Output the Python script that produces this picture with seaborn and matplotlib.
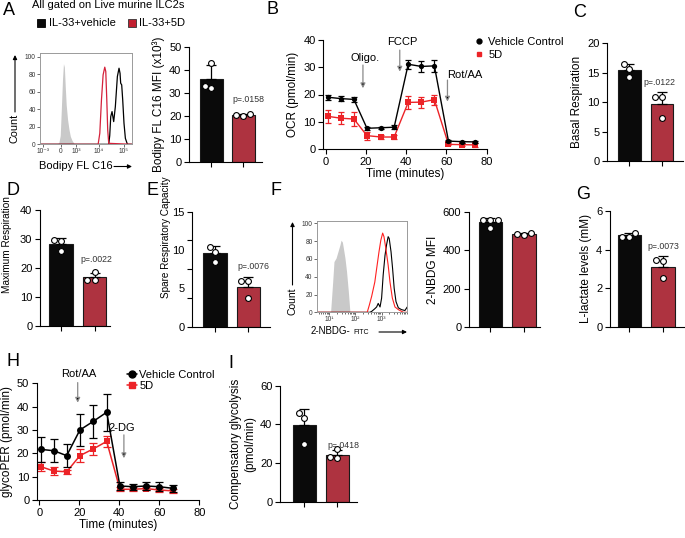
import numpy as np
import pandas as pd
import matplotlib
matplotlib.use("Agg")
import matplotlib.pyplot as plt
import seaborn as sns
from matplotlib.lines import Line2D
from matplotlib.patches import Rectangle
from matplotlib.ticker import NullFormatter

# ---------------- data ----------------
groups = ["Vehicle", "5D"]

bodipy_mfi_veh = [43.0, 32.0, 33.0]
bodipy_mfi_5d = [21.0, 20.3, 20.2]
basal_resp_veh = [16.4, 15.6, 14.2]
basal_resp_5d = [10.9, 10.8, 7.3]
max_resp_veh = [29.6, 29.4, 25.8]
max_resp_5d = [18.6, 15.9, 15.7]
spare_cap_veh = [10.4, 9.8, 8.5]
spare_cap_5d = [6.0, 5.9, 3.7]
nbdg_mfi_veh = [558, 556, 556, 516]
nbdg_mfi_5d = [492, 478, 486]
lactate_veh = [4.88, 4.67, 4.67]
lactate_5d = [3.46, 3.40, 2.50]
comp_glyc_veh = [45.7, 43.1, 29.7]
comp_glyc_5d = [27.1, 23.3, 22.8]

p_bodipy = "p=.0158"
p_basal = "p=.0122"
p_max = "p=.0022"
p_spare = "p=.0076"
p_lactate = "p=.0073"
p_comp = "p=.0418"

# OCR (panel B)
ocr_time = [1, 7.5, 14, 20.5, 27.5, 34, 41, 47.5, 54, 61, 67.5, 74]
ocr_veh = [19.0, 18.5, 18.2, 7.6, 7.8, 8.0, 31.1, 30.3, 30.5, 2.9, 2.7, 2.6]
ocr_veh_err = [1.0, 1.0, 1.0, 0.6, 0.4, 0.7, 1.6, 2.1, 2.1, 0.4, 0.4, 0.4]
ocr_5d = [12.0, 11.3, 11.0, 4.9, 4.4, 4.4, 17.1, 17.2, 18.1, 1.7, 1.6, 1.5]
ocr_5d_err = [2.4, 2.1, 2.4, 1.5, 0.6, 0.9, 2.3, 2.0, 1.8, 0.4, 0.5, 0.6]

# glycoPER (panel H)
per_time = [0.7, 7.3, 13.7, 20.3, 27.0, 33.7, 40.3, 47.0, 53.3, 60.0, 66.7]
per_veh = [21.7, 21.1, 19.0, 30.0, 33.7, 37.6, 6.0, 5.7, 6.0, 5.7, 5.0]
per_veh_err = [5.5, 5.0, 4.8, 7.0, 7.1, 7.9, 1.8, 1.3, 1.7, 1.8, 1.6]
per_5d = [14.3, 12.4, 12.1, 19.0, 21.9, 25.1, 4.6, 4.6, 4.9, 4.3, 3.9]
per_5d_err = [2.0, 1.9, 0.8, 2.7, 2.5, 2.4, 0.8, 0.8, 0.8, 0.8, 0.8]

# Bodipy FL C16 histogram (panel A), biexponential display channel units
bodipy_tick_pos = [2.9, 22.8, 39.1, 63.8, 91.3]
bodipy_tick_lab = ["10⁻³", "0", "10³", "10⁴", "10⁵"]
bodipy_fmo_x = [0, 18.5, 20.5, 22, 23, 24.5, 25.5, 26.5, 27.5, 28.5, 30, 31.5, 33, 35, 37, 39, 100]
bodipy_fmo_y = [0, 0, 2, 10, 35, 75, 92, 88, 65, 45, 28, 17, 9, 4, 1, 0, 0]
bodipy_5d_x = [0, 63.2, 65, 66.8, 68.6, 70.4, 71.5, 72.6, 73.6, 74.7, 100]
bodipy_5d_y = [0, 0, 12.6, 50.6, 79.2, 88, 83, 50.6, 16.3, 1.1, 0]
bodipy_veh_x = [0, 74.7, 75.8, 76.9, 78.3, 80.1, 81.9, 84.1, 85.9, 87, 87.7, 88.8, 89.9, 91.3, 92.8, 95, 100]
bodipy_veh_y = [0, 0, 10, 31.6, 37.3, 25.9, 43, 77.3, 86.8, 81, 69.7, 67.8, 50.6, 24, 6.8, 0, 0]

# 2-NBDG histogram (panel F), log10 intensity
nbdg_fmo_log = [0.5, 1.05, 1.13, 1.18, 1.26, 1.33, 1.41, 1.45, 1.50, 1.54, 1.60, 1.66, 1.73, 1.79, 4.0]
nbdg_fmo_cnt = [0, 0, 34, 57, 61, 68, 76, 81, 79, 72, 61, 46, 23, 0, 0]
nbdg_5d_log = [0.5, 2.45, 2.53, 2.62, 2.74, 2.81, 2.90, 2.97, 3.04, 3.09, 3.16, 3.25, 3.32, 3.41, 3.51, 3.64, 3.83, 4.0]
nbdg_5d_cnt = [0, 0, 8, 18, 34, 49, 68, 81, 89, 85, 72, 53, 34, 16, 6, 3, 0, 0]
nbdg_veh_log = [0.5, 2.55, 2.62, 2.74, 2.81, 2.87, 2.94, 3.0, 3.06, 3.13, 3.19, 3.25, 3.29, 3.36, 3.42, 3.48, 3.55, 3.64, 3.76, 3.89, 3.98]
nbdg_veh_cnt = [0, 0, 1, 4, 6, 10, 6, 16, 42, 64, 76, 85, 83, 68, 49, 27, 12, 5, 3, 2, 6]

# ---------------- style ----------------
sns.set_theme(style="ticks")
plt.rcParams["font.family"] = ["Liberation Sans", "DejaVu Sans"]
plt.rcParams.update({
    "axes.edgecolor": "black", "axes.linewidth": 0.8,
    "xtick.color": "black", "ytick.color": "black",
    "xtick.major.width": 0.8, "ytick.major.width": 0.8,
    "xtick.major.size": 3.5, "ytick.major.size": 3.5,
    "xtick.major.pad": 2, "ytick.major.pad": 2,
    "text.color": "black", "axes.labelcolor": "black",
})

BLACK = "#0a0a0a"
RED_BAR = "#c21f30"
RED_LINE = "#ec2327"
RED_HIST_A = "#d4213a"
RED_HIST_F = "#ff2020"
GREY_FILL = "#c9c9c9"
NARROW = ["Liberation Sans Narrow", "Liberation Sans", "DejaVu Sans"]

W, H = 685, 538
fig = plt.figure(figsize=(W / 100, H / 100), dpi=100)


def box(l, r, t, b):
    return [l / W, 1 - b / H, (r - l) / W, (b - t) / H]


def fx(x):
    return x / W


def fy(y):
    return 1 - y / H


def letter(s, x, y):
    fig.text(fx(x), fy(y), s, fontsize=13, ha="left", va="top")


def bar_panel(l, r, t, b, xlim, ymax, yticks, veh, fived, ylabel, pval=None, p_off=(0, 10),
              label_size=8.5, label_family=None):
    ax = fig.add_axes(box(l, r, t, b))
    df = pd.DataFrame({"group": [groups[0]] * len(veh) + [groups[1]] * len(fived),
                       "value": list(veh) + list(fived)})
    sns.barplot(data=df, x="group", y="value", hue="group", order=groups, hue_order=groups,
                palette=[BLACK, RED_BAR], errorbar=None, width=0.7,
                edgecolor="#1a1a1a", linewidth=0.8, legend=False, ax=ax, zorder=1)
    stats = df.groupby("group")["value"].agg(["mean", "std"]).reindex(groups)
    ax.errorbar([0, 1], stats["mean"].values, yerr=[np.zeros(2), stats["std"].values],
                fmt="none", ecolor="black", elinewidth=0.9, capsize=3.5, capthick=0.9, zorder=3)
    sns.swarmplot(data=df, x="group", y="value", order=groups, color="white",
                  edgecolor="black", linewidth=0.8, size=4.2, ax=ax, zorder=4, clip_on=False)
    ax.set_xlim(*xlim)
    ax.set_ylim(0, ymax)
    if yticks is not None:
        ax.set_yticks(yticks)
    ax.set_xlabel("")
    if label_family:
        ax.set_ylabel(ylabel, fontsize=label_size, labelpad=3, family=label_family)
    else:
        ax.set_ylabel(ylabel, fontsize=label_size, labelpad=3)
    ax.tick_params(axis="x", labelbottom=False)
    ax.tick_params(axis="y", labelsize=8)
    sns.despine(ax=ax)
    if pval:
        top = max(stats.loc[groups[1], "mean"] + stats.loc[groups[1], "std"], max(fived))
        ax.annotate(pval, xy=(1, top), xytext=(p_off[0] * 0.72, p_off[1] * 0.72),
                    textcoords="offset points", ha="center", va="center",
                    fontsize=6.3, color="#333333")
    return ax


def hist_axes(l, r, t, b):
    ax = fig.add_axes(box(l, r, t, b))
    for s in ax.spines.values():
        s.set_color("#9a9a9a")
        s.set_linewidth(0.7)
    return ax


def hist_ticks(ax):
    ax.tick_params(which="both", labelsize=4.8, width=0.5, pad=1, colors="#333333")
    ax.tick_params(which="major", length=2)
    ax.tick_params(which="minor", length=1.2)


def fig_arrow(x0, y0, x1, y1):
    fig.add_artist(matplotlib.patches.FancyArrowPatch(
        (fx(x0), fy(y0)), (fx(x1), fy(y1)), transform=fig.transFigure,
        arrowstyle="-|>", mutation_scale=6, lw=0.8, color="black",
        shrinkA=0, shrinkB=0))


def ax_arrow(ax, x, y0, y1):
    ax.annotate("", xy=(x, y1), xytext=(x, y0),
                arrowprops=dict(arrowstyle="-|>", fc="black", ec="#8a8a8a", lw=0.9,
                                mutation_scale=7, shrinkA=0, shrinkB=0))


# ---------------- panel A ----------------
letter("A", 3, 2)
fig.text(fx(32), fy(5.5), "All gated on Live murine ILC2s", fontsize=8, ha="left", va="center")
fig.add_artist(Rectangle((fx(36.5), fy(27.3)), 8.5 / W, 8.3 / H, transform=fig.transFigure,
                         facecolor=BLACK, edgecolor="black", lw=0.6))
fig.text(fx(48.5), fy(23.3), "IL-33+vehicle", fontsize=8, ha="left", va="center")
fig.add_artist(Rectangle((fx(127.7), fy(27.3)), 8.5 / W, 8.3 / H, transform=fig.transFigure,
                         facecolor=RED_BAR, edgecolor="#333333", lw=0.6))
fig.text(fx(139.5), fy(23.3), "IL-33+5D", fontsize=8, ha="left", va="center")

axA = hist_axes(40, 132, 52.7, 144.3)
axA.fill_between(bodipy_fmo_x, bodipy_fmo_y, color=GREY_FILL, lw=0)
sns.lineplot(x=bodipy_veh_x, y=bodipy_veh_y, color="black", lw=0.9, ax=axA)
sns.lineplot(x=bodipy_5d_x, y=bodipy_5d_y, color=RED_HIST_A, lw=0.9, ax=axA)
axA.set_xlim(0, 100)
axA.set_ylim(0, 104.5)
axA.set_xticks(bodipy_tick_pos)
axA.set_xticklabels(bodipy_tick_lab)
axA.set_yticks([0, 20, 40, 60, 80, 100])
hist_ticks(axA)
axA.set_xlabel("")
axA.set_ylabel("")
fig.text(fx(14.5), fy(128), "Count", rotation=90, fontsize=7.8, ha="center", va="center")
fig_arrow(15, 112, 15, 55)
fig.text(fx(39), fy(166), "Bodipy FL C16", fontsize=8, ha="left", va="center")
fig_arrow(114, 166.5, 132, 166.5)

bar_panel(189, 262, 46.7, 162.3, (-0.70, 1.58), 50, [0, 10, 20, 30, 40, 50],
          bodipy_mfi_veh, bodipy_mfi_5d, "Bodipy FL C16 MFI (x10³)", p_bodipy, (4.5, 14))

# ---------------- panel B ----------------
letter("B", 267, 1)
axB = fig.add_axes(box(323.3, 486.7, 40, 149))
axB.errorbar(ocr_time, ocr_5d, yerr=ocr_5d_err, fmt="none", ecolor=RED_LINE, elinewidth=0.9,
             capsize=2.5, capthick=0.9)
sns.lineplot(x=ocr_time, y=ocr_5d, color=RED_LINE, marker="s", markersize=3.8,
             markeredgewidth=0, lw=1, ax=axB)
axB.errorbar(ocr_time, ocr_veh, yerr=ocr_veh_err, fmt="none", ecolor="black", elinewidth=0.9,
             capsize=2.5, capthick=0.9)
sns.lineplot(x=ocr_time, y=ocr_veh, color="black", marker="o", markersize=3.8,
             markeredgewidth=0, lw=1, ax=axB)
axB.set_xlim(-1.2, 80)
axB.set_ylim(0, 40)
axB.set_xticks([0, 20, 40, 60, 80])
axB.set_yticks([0, 10, 20, 30, 40])
axB.tick_params(labelsize=8)
axB.set_xlabel("Time (minutes)", fontsize=8.5, labelpad=1)
axB.set_ylabel("OCR (pmol/min)", fontsize=8.5, labelpad=3)
sns.despine(ax=axB)
ax_arrow(axB, 18.5, 30.8, 22.3)
axB.text(19.6, 33.3, "Oligo.", ha="center", va="center", fontsize=8)
ax_arrow(axB, 36.8, 36.3, 28.4)
axB.text(38.0, 39.4, "FCCP", ha="center", va="center", fontsize=8)
ax_arrow(axB, 60.5, 25.3, 17.4)
axB.text(69.2, 27.2, "Rot/AA", ha="center", va="center", fontsize=8)
legB = [Line2D([], [], marker="o", color="black", ls="none", markersize=3.5),
        Line2D([], [], marker="s", color=RED_LINE, ls="none", markersize=3.5)]
fig.legend(legB, ["Vehicle Control", "5D"], loc="upper left",
           bbox_to_anchor=(fx(475), fy(37)), frameon=False, fontsize=8,
           handlelength=0.8, handletextpad=0.4, labelspacing=0.25, borderpad=0,
           borderaxespad=0)

# ---------------- panel C ----------------
letter("C", 573, 4)
bar_panel(607, 683, 43.3, 161, (-0.69, 1.65), 20, [0, 5, 10, 15, 20],
          basal_resp_veh, basal_resp_5d, "Basal Respiration", p_basal, (-2, 9.5))

# ---------------- panel D ----------------
letter("D", 6, 182)
axD = bar_panel(40, 110, 210, 325.7, (-0.63, 1.46), 40, [0, 10, 20, 30, 40],
                max_resp_veh, max_resp_5d, "Maximum Respiration", p_max, (2, 12),
                label_size=7.2, label_family=NARROW)
axD.yaxis.set_label_coords(-0.40, 0.70)

# ---------------- panel E ----------------
letter("E", 147, 182)
axE = bar_panel(192, 270, 211.7, 326.7, (-0.69, 1.65), 15, [0, 3.75, 7.5, 11.25, 15],
                spare_cap_veh, spare_cap_5d, "Spare Respiratory Capacity", p_spare, (5, 10.5),
                label_size=7.2, label_family=NARROW)
axE.yaxis.remove_overlapping_locs = False
axE.set_yticklabels([])
axE.set_yticks([0, 5, 10, 15], minor=True)
axE.set_yticklabels(["0", "5", "10", "15"], minor=True)
axE.tick_params(axis="y", which="minor", length=0, pad=5.5, labelsize=8)
axE.yaxis.set_label_coords(-0.27, 0.78)

# ---------------- panel F ----------------
letter("F", 271, 182)
axF = hist_axes(316.7, 407, 221, 312.3)
axF.fill_between(10 ** np.array(nbdg_fmo_log), nbdg_fmo_cnt, color=GREY_FILL, lw=0)
sns.lineplot(x=10 ** np.array(nbdg_veh_log), y=nbdg_veh_cnt, color="black", lw=0.8, ax=axF)
sns.lineplot(x=10 ** np.array(nbdg_5d_log), y=nbdg_5d_cnt, color=RED_HIST_F, lw=0.8, ax=axF)
axF.set_xscale("log")
axF.set_xlim(10 ** 0.52, 10 ** 3.97)
axF.set_ylim(0, 102.6)
axF.set_xticks([10, 100, 1000])
axF.set_xticklabels(["10¹", "10²", "10³"])
axF.xaxis.set_minor_formatter(NullFormatter())
axF.set_yticks([0, 20, 40, 60, 80, 100])
hist_ticks(axF)
axF.set_xlabel("")
axF.set_ylabel("")
fig.text(fx(292), fy(301), "Count", rotation=90, fontsize=7.5, ha="center", va="center")
fig_arrow(292.5, 285, 292.5, 222)
fig.text(fx(311), fy(331.5), "2-NBDG-", fontsize=7, ha="left", va="center")
fig.text(fx(353), fy(332.5), "FITC", fontsize=5, ha="left", va="center")
fig_arrow(379, 332, 407, 332)

bar_panel(469, 540, 212, 327, (-0.64, 1.48), 600, [0, 200, 400, 600],
          nbdg_mfi_veh, nbdg_mfi_5d, "2-NBDG MFI")

# ---------------- panel G ----------------
letter("G", 576, 186)
bar_panel(610, 684, 211, 326.7, (-0.58, 1.63), 6, [0, 2, 4, 6],
          lactate_veh, lactate_5d, "L-lactate levels (mM)", p_lactate, (0, 9.5))

# ---------------- panel H ----------------
letter("H", 6, 353)
axH = fig.add_axes(box(36.9, 199.3, 383.3, 500))
axH.errorbar(per_time, per_5d, yerr=per_5d_err, fmt="none", ecolor=RED_LINE, elinewidth=0.9,
             capsize=3, capthick=0.9)
sns.lineplot(x=per_time, y=per_5d, color=RED_LINE, marker="s", markersize=5,
             markeredgewidth=0, lw=1.1, ax=axH)
axH.errorbar(per_time, per_veh, yerr=per_veh_err, fmt="none", ecolor="black", elinewidth=0.9,
             capsize=3, capthick=0.9)
sns.lineplot(x=per_time, y=per_veh, color="black", marker="o", markersize=5,
             markeredgewidth=0, lw=1.1, ax=axH)
axH.set_xlim(-1.2, 80)
axH.set_ylim(0, 50)
axH.set_xticks([0, 20, 40, 60, 80])
axH.set_yticks([0, 10, 20, 30, 40, 50])
axH.tick_params(labelsize=8)
axH.set_xlabel("Time (minutes)", fontsize=8.5, labelpad=1)
axH.set_ylabel("glycoPER (pmol/min)", fontsize=8.5, labelpad=3)
sns.despine(ax=axH)
ax_arrow(axH, 19.2, 50.3, 41.7)
axH.text(19.5, 54, "Rot/AA", ha="center", va="center", fontsize=8, clip_on=False)
ax_arrow(axH, 42.3, 27.9, 17.9)
axH.text(41.2, 30.7, "2-DG", ha="center", va="center", fontsize=8)
legH = [Line2D([], [], marker="o", color="black", lw=1.1, markersize=5),
        Line2D([], [], marker="s", color=RED_LINE, lw=1.1, markersize=5)]
fig.legend(legH, ["Vehicle Control", "5D"], loc="upper left",
           bbox_to_anchor=(fx(127), fy(369.5)), frameon=False, fontsize=8,
           handlelength=0.9, handletextpad=0.2, labelspacing=0.1, borderpad=0,
           borderaxespad=0)

# ---------------- panel I ----------------
letter("I", 228, 355)
bar_panel(280, 357, 385.7, 501.7, (-0.73, 1.6), 60, [0, 20, 40, 60],
          comp_glyc_veh, comp_glyc_5d, "Compensatory glycolysis\n(pmol/min)", p_comp, (6, 4))

fig.savefig("out.png", dpi=100)
